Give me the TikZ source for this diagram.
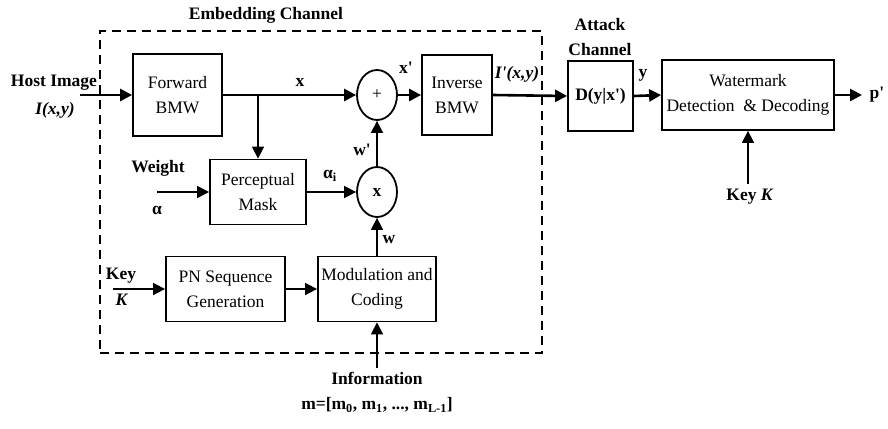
\documentclass[tikz,border=0pt]{standalone}
\usepackage{fontspec}
\setmainfont{Liberation Serif}
\usetikzlibrary{arrows.meta,shapes.geometric}
\newcommand{\qq}{\textquotesingle}
\begin{document}
\begin{tikzpicture}[x=1pt,y=-1pt,
  font=\fontsize{17.5}{25}\selectfont,
  blk/.style={draw,line width=1.8pt,align=center,inner sep=0pt},
  opnode/.style={draw,ellipse,line width=1.8pt,inner sep=0pt,minimum width=40pt,minimum height=50pt},
  lbl/.style={inner sep=0pt,align=center,font=\fontsize{17.5}{25}\selectfont\bfseries},
  main/.style={line width=2.6pt,-{Triangle[length=12pt,width=12pt]}},
  conn/.style={line width=1.6pt,-{Triangle[length=12pt,width=12pt]}}]
\useasboundingbox (0,0) rectangle (888,428);

% embedding channel frame
\node[draw,dash pattern=on 9pt off 6pt,line width=2pt,inner sep=0pt,
      minimum width=442pt,minimum height=322pt] (emb) at (321,192) {};
\node[lbl] (embl) at (266,15) {Embedding Channel};

% blocks
\node[blk,minimum width=89pt,minimum height=82pt] (fwd) at (177.5,95) {Forward\\BMW};
\node[opnode] (plus) at (377,95) {+};
\node[blk,minimum width=70pt,minimum height=80pt] (inv) at (457,95) {Inverse\\BMW};
\node[blk,minimum width=65pt,minimum height=70pt] (att) at (600.5,96) {\textbf{D(y|x\qq)}};
\node[blk,minimum width=172pt,minimum height=70pt] (wm) at (748,95) {Watermark\\Detection \ \& Decoding};
\node[blk,minimum width=96pt,minimum height=65pt] (perc) at (258,192) {Perceptual\\Mask};
\node[opnode] (mult) at (377,192) {\textbf{x}};
\node[blk,minimum width=119pt,minimum height=65pt] (pn) at (225.5,289) {PN Sequence\\Generation};
\node[blk,minimum width=118pt,minimum height=65pt] (mod) at (377,289) {Modulation and\\Coding};

% free ends
\coordinate (hostin) at (80,95);
\coordinate (br) at (258,95);
\coordinate (pout) at (862,95);
\coordinate (keyKin) at (748,184);
\coordinate (weightin) at (157,192);
\coordinate (keyin) at (113,289);
\coordinate (infoin) at (377,368);

% connectors
\draw[main] (hostin) -- (fwd.west);
\draw[main] (fwd.east) -- (plus.west);
\draw[conn] (br) -- (perc.north);
\draw[main] (plus.east) -- (inv.west);
\draw[main] (inv.east) -- (att.west);
\draw[main] (att.east) -- (wm.west);
\draw[main] (wm.east) -- (pout);
\draw[conn] (keyKin) -- (wm.south);
\draw[conn] (weightin) -- (perc.west);
\draw[conn] (perc.east) -- (mult.west);
\draw[conn] (mult.north) -- (plus.south);
\draw[conn] (mod.north) -- (mult.south);
\draw[conn] (keyin) -- (pn.west);
\draw[conn] (pn.east) -- (mod.west);
\draw[conn] (infoin) -- (mod.south);

% labels
\node[lbl] (hostl) at (54,83) {Host Image};
\node[lbl] (hostI) at (55,110) {\textit{I(x,y)}};
\node[lbl] (xl) at (300,82) {x};
\node[lbl] (xpl) at (406,68) {x\qq};
\node[lbl] (ipl) at (517,74) {\textit{I\qq(x,y)}};
\node[lbl] (attl) at (600,37) {Attack\\Channel};
\node[lbl] (yl) at (643,75) {y};
\node[lbl] (pl) at (877,95) {p\qq};
\node[lbl] (keyKl) at (750,197) {Key \textit{K}};
\node[lbl] (weightl) at (158,168) {Weight};
\node[lbl] (alphal) at (157,210) {α};
\node[lbl] (alphail) at (330,176) {α\textsubscript{i}};
\node[lbl] (wpl) at (362,150) {w\qq};
\node[lbl] (wl) at (389,240) {w};
\node[lbl] (keyl) at (121,276) {Key};
\node[lbl] (Kl) at (122,300) {\textit{K}};
\node[lbl] (infol) at (377,378) {Information};
\node[lbl] (ml) at (377,405) {m=[m\textsubscript{0}, m\textsubscript{1}, ..., m\textsubscript{L-1}]};
\end{tikzpicture}
\end{document}
